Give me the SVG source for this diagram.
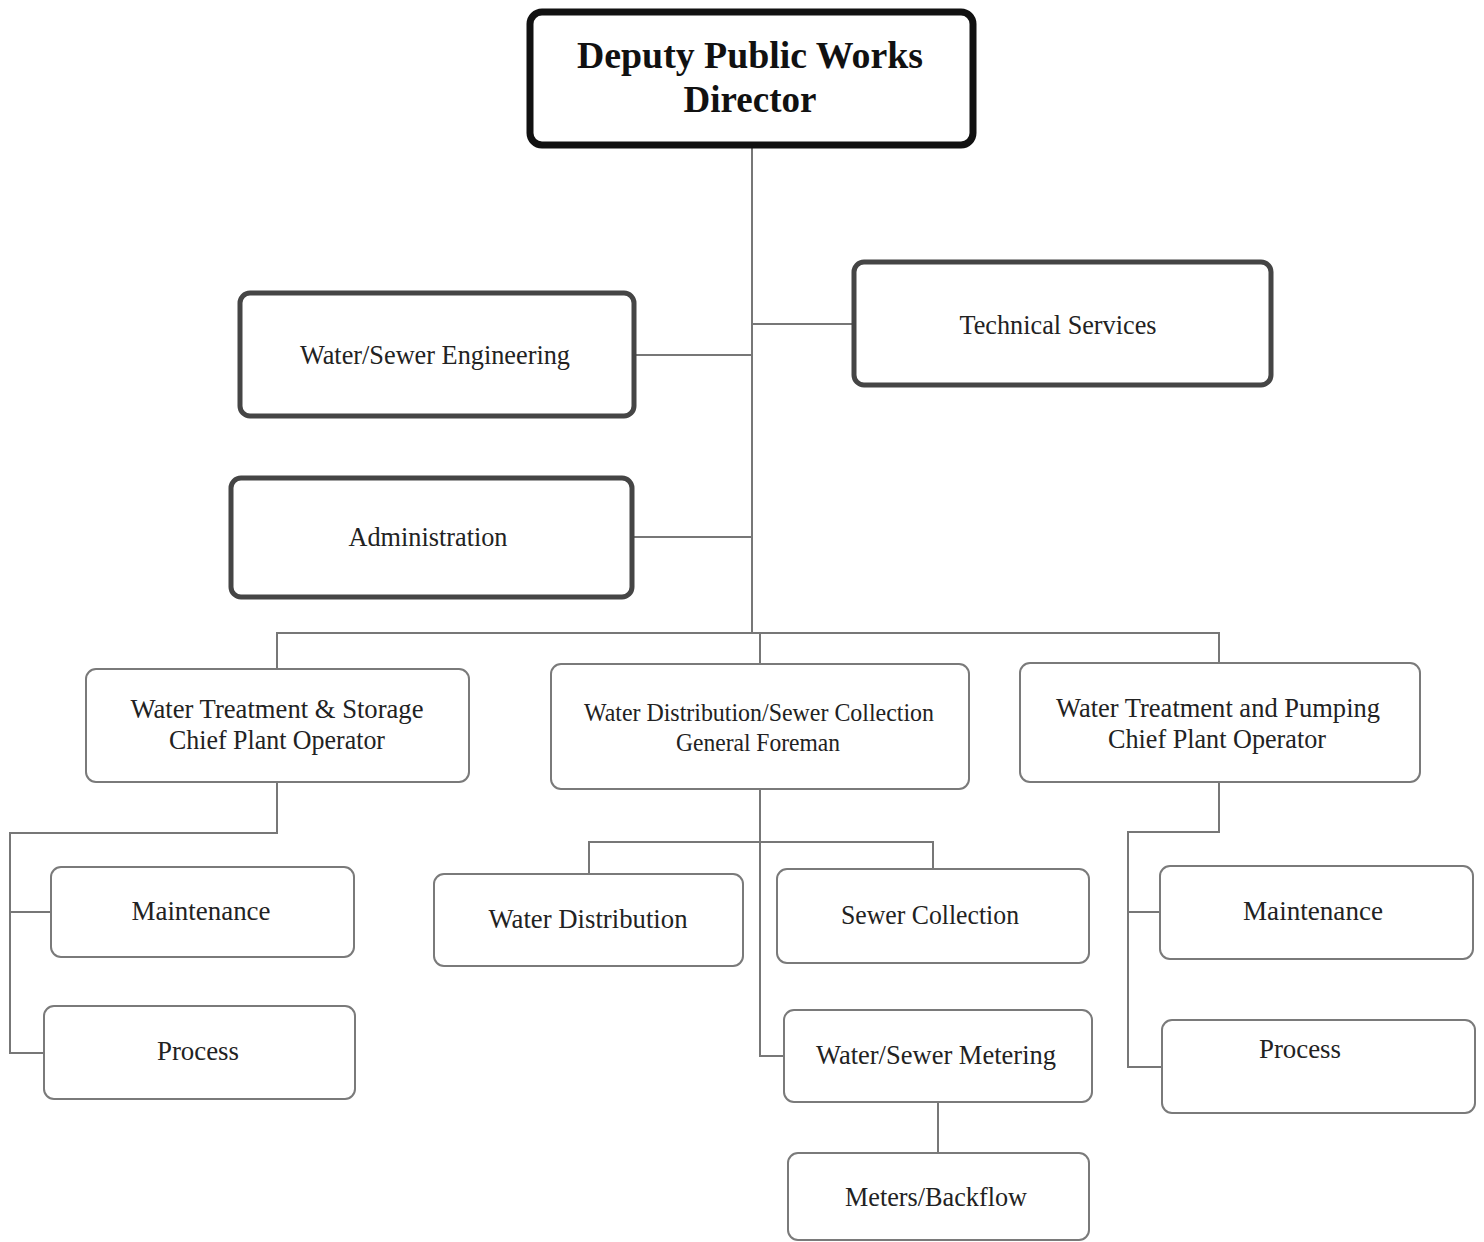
<svg xmlns="http://www.w3.org/2000/svg" width="1484" height="1242" viewBox="0 0 1484 1242">
<style>
.bg{fill:#fff}
.top{fill:#fff;stroke:#111;stroke-width:7}
.mid{fill:#fff;stroke:#454545;stroke-width:5}
.low{fill:#fff;stroke:#7a7a7a;stroke-width:2}
.conn path{fill:none;stroke:#777;stroke-width:2}
text{font-family:"Liberation Serif","Times New Roman",serif;fill:#222;text-anchor:middle}
.t1{font-size:37px;font-weight:bold;fill:#111}
.t2{font-size:28px}
.t3{font-size:26px}
</style>
<rect class="bg" x="0" y="0" width="1484" height="1242"/>
<g class="conn">
<path d="M752 145 V633"/>
<path d="M752 324 H853"/>
<path d="M635 355 H752"/>
<path d="M633 537 H752"/>
<path d="M277 669 V633 H1219 V663"/>
<path d="M760 633 V664"/>
<path d="M277 782 V833 H10 V1053 H44"/>
<path d="M10 912 H51"/>
<path d="M760 789 V1056 H784"/>
<path d="M589 874 V842 H933 V869"/>
<path d="M938 1102 V1153"/>
<path d="M1219 782 V832 H1128 V1067 H1162"/>
<path d="M1128 912 H1160"/>
</g>
<g id="deputy">
<rect class="top" x="530" y="12" width="443" height="133" rx="12"/>
<text class="t1" x="750" y="68" textLength="346" lengthAdjust="spacingAndGlyphs">Deputy Public Works</text>
<text class="t1" x="750" y="112">Director</text>
</g>
<g id="technical">
<rect class="mid" x="854" y="262" width="417" height="123" rx="10"/>
<text class="t2" x="1058" y="334" textLength="197" lengthAdjust="spacingAndGlyphs">Technical Services</text>
</g>
<g id="engineering">
<rect class="mid" x="240" y="293" width="394" height="123" rx="10"/>
<text class="t2" x="435" y="364" textLength="270" lengthAdjust="spacingAndGlyphs">Water/Sewer Engineering</text>
</g>
<g id="admin">
<rect class="mid" x="231" y="478" width="401" height="119" rx="10"/>
<text class="t2" x="428" y="546" textLength="159" lengthAdjust="spacingAndGlyphs">Administration</text>
</g>
<g id="wts">
<rect class="low" x="86" y="669" width="383" height="113" rx="10"/>
<text class="t2" x="277" y="718" textLength="293" lengthAdjust="spacingAndGlyphs">Water Treatment &amp; Storage</text>
<text class="t2" x="277" y="749" textLength="216" lengthAdjust="spacingAndGlyphs">Chief Plant Operator</text>
</g>
<g id="wdsc">
<rect class="low" x="551" y="664" width="418" height="125" rx="10"/>
<text class="t3" x="759" y="721" textLength="350" lengthAdjust="spacingAndGlyphs">Water Distribution/Sewer Collection</text>
<text class="t3" x="758" y="751" textLength="164" lengthAdjust="spacingAndGlyphs">General Foreman</text>
</g>
<g id="wtp">
<rect class="low" x="1020" y="663" width="400" height="119" rx="10"/>
<text class="t2" x="1218" y="717" textLength="324" lengthAdjust="spacingAndGlyphs">Water Treatment and Pumping</text>
<text class="t2" x="1217" y="748" textLength="218" lengthAdjust="spacingAndGlyphs">Chief Plant Operator</text>
</g>
<g id="maint-left">
<rect class="low" x="51" y="867" width="303" height="90" rx="10"/>
<text class="t2" x="201" y="920" textLength="139" lengthAdjust="spacingAndGlyphs">Maintenance</text>
</g>
<g id="process-left">
<rect class="low" x="44" y="1006" width="311" height="93" rx="10"/>
<text class="t2" x="198" y="1060" textLength="82" lengthAdjust="spacingAndGlyphs">Process</text>
</g>
<g id="water-dist">
<rect class="low" x="434" y="874" width="309" height="92" rx="10"/>
<text class="t2" x="588" y="928" textLength="199" lengthAdjust="spacingAndGlyphs">Water Distribution</text>
</g>
<g id="sewer-coll">
<rect class="low" x="777" y="869" width="312" height="94" rx="10"/>
<text class="t2" x="930" y="924" textLength="178" lengthAdjust="spacingAndGlyphs">Sewer Collection</text>
</g>
<g id="metering">
<rect class="low" x="784" y="1010" width="308" height="92" rx="10"/>
<text class="t2" x="936" y="1064" textLength="240" lengthAdjust="spacingAndGlyphs">Water/Sewer Metering</text>
</g>
<g id="meters">
<rect class="low" x="788" y="1153" width="301" height="87" rx="10"/>
<text class="t2" x="936" y="1206" textLength="182" lengthAdjust="spacingAndGlyphs">Meters/Backflow</text>
</g>
<g id="maint-right">
<rect class="low" x="1160" y="866" width="313" height="93" rx="10"/>
<text class="t2" x="1313" y="920" textLength="140" lengthAdjust="spacingAndGlyphs">Maintenance</text>
</g>
<g id="process-right">
<rect class="low" x="1162" y="1020" width="313" height="93" rx="10"/>
<text class="t2" x="1300" y="1058" textLength="82" lengthAdjust="spacingAndGlyphs">Process</text>
</g>
</svg>
